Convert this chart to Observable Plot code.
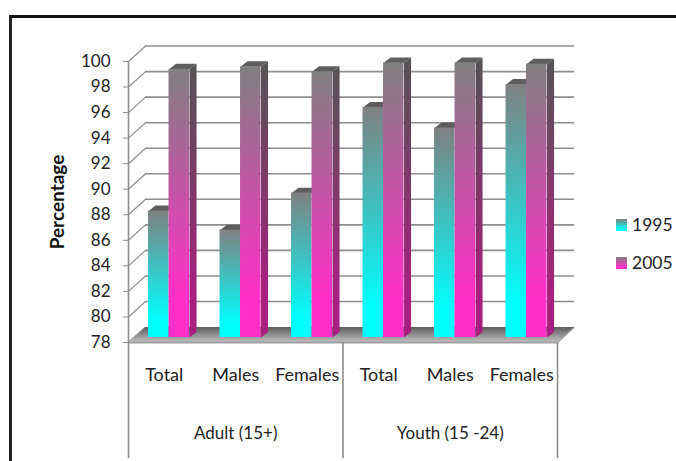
<!DOCTYPE html>
<html>
<head>
<meta charset="utf-8">
<script src="https://cdn.jsdelivr.net/npm/d3@7"></script>
<script src="https://cdn.jsdelivr.net/npm/@observablehq/plot@0.6"></script>
<style>
html,body{margin:0;padding:0;background:#fff;overflow:hidden}
#wrap{position:relative;width:676px;height:461px;font-family:Lato,sans-serif}
#frame{position:absolute;left:9px;top:15px;right:0;bottom:0;border-left:3px solid #222;border-top:3px solid #111}
#chart{position:absolute;left:0;top:0}
.lg{position:absolute;left:616px;display:flex;align-items:center;font-size:17.5px;color:#222;line-height:1}
.lg i{display:block;width:11px;height:12px;margin-right:5px}
</style>
</head>
<body>
<div id="wrap"><div id="frame"></div><div id="chart"></div>
<div class="lg" style="top:216px"><i style="background:linear-gradient(#808080,#00ffff 85%)"></i><span>1995</span></div>
<div class="lg" style="top:254px"><i style="background:linear-gradient(#808080,#ff2fc8 85%)"></i><span>2005</span></div>
</div>
<script>
const categories = ["Total","Males","Females","Total","Males","Females"];
const groups = ["Adult (15+)","Youth (15 -24)"];
const values1995 = [87.9,86.4,89.3,96.0,94.4,97.8];
const values2005 = [99.0,99.2,98.8,99.5,99.5,99.4];
const yTicks = [78,80,82,84,86,88,90,92,94,96,98,100];

const yMin = 78, yMax = 100;
// depth of the 3D box, in scale units
const wallDx = 0.238, wallDy = 1.21;
const barDx = 0.098, barDy = 0.43;
const barStart = 0.21, barW = 0.287;

const slots = categories.map((c,i)=>i);
const faces = {front:[],side:[],top:[]};
function addBars(vals, k, tag){
  vals.forEach((v,i)=>{
    const x1 = i+barStart+k*barW, x2 = x1+barW;
    faces.front.push({tag,x1,x2,v});
    const id = tag+i;
    [[x2,yMin],[x2+barDx,yMin+barDy],[x2+barDx,v+barDy],[x2,v]].forEach(p=>faces.side.push({id,tag,x:p[0],y:p[1]}));
    [[x1,v],[x1+barDx,v+barDy],[x2+barDx,v+barDy],[x2,v]].forEach(p=>faces.top.push({id,tag,x:p[0],y:p[1]}));
  });
}
addBars(values1995,0,"a");
addBars(values2005,1,"b");

const n = categories.length;
const floor = [[0,yMin],[wallDx,yMin+wallDy],[n+wallDx,yMin+wallDy],[n,yMin]].map(p=>({x:p[0],y:p[1]}));
const grey = "#8e8e8e";
const barMarks = tag => [
  Plot.line(faces.top.filter(d=>d.tag===tag),{x:"x",y:"y",z:"id",fill:"#5e5e5e",stroke:"none",dx:5,dy:-5}),
  Plot.line(faces.side.filter(d=>d.tag===tag),{x:"x",y:"y",z:"id",fill:"url(#side"+tag+")",stroke:"none",dx:5,dy:-5}),
  Plot.rect(faces.front.filter(d=>d.tag===tag),{x1:"x1",x2:"x2",y1:()=>yMin,y2:"v",fill:"url(#front"+tag+")",dx:5,dy:-5})
];

const plot = Plot.plot({
  width:676,height:461,
  marginLeft:128,marginRight:119,marginTop:61,marginBottom:119,
  style:{background:"transparent",fontFamily:"Lato,sans-serif"},
  x:{domain:[0,n],axis:null},
  y:{domain:[yMin,yMax],axis:null},
  marks:[
    // back wall grid
    Plot.ruleY(yTicks.slice(1),{y:d=>d+wallDy,x1:()=>wallDx,x2:()=>n+wallDx,stroke:grey,strokeWidth:1.6}),
    // side wall diagonals
    Plot.link(yTicks,{x1:()=>0,y1:d=>d,x2:()=>wallDx,y2:d=>d+wallDy,stroke:grey,strokeWidth:1.2}),
    // floor
    Plot.line(floor,{x:"x",y:"y",fill:"url(#floor)",stroke:"none"}),
    Plot.ruleX([0],{y1:yMin,y2:yMax,stroke:grey,strokeWidth:1.6}),
    Plot.ruleY([yMin],{x1:()=>0,x2:()=>n,stroke:"#a0a0a0",strokeWidth:2}),
    Plot.link([0],{x1:()=>n,y1:()=>yMin,x2:()=>n+wallDx,y2:()=>yMin+wallDy,stroke:"#a0a0a0",strokeWidth:1.2}),
    // category dividers
    Plot.ruleX([0,3,6],{x:d=>d,y1:()=>yMin,y2:()=>yMin-9.1,stroke:grey,strokeWidth:1.6}),
    ...barMarks("a"),
    ...barMarks("b"),
    Plot.axisY({ticks:yTicks,tickSize:5,tickPadding:13,stroke:grey,fill:"#222",fontSize:17,label:null,tickFormat:d=>String(d)}),
    Plot.text(slots,{x:d=>d+0.5,y:()=>yMin,dy:33,text:d=>categories[d],fontSize:18,fill:"#222"}),
    Plot.text(groups,{x:(d,i)=>1.5+3*i,y:()=>yMin,dy:91,text:d=>d,fontSize:17,fill:"#222"}),
    Plot.text(["Percentage"],{frameAnchor:"left",textAnchor:"middle",dx:-71,text:d=>d,rotate:-90,fontSize:19,fontWeight:"bold",fill:"#111"})
  ]
});

function grad(id,stops){
  const g = d3.select(plot).insert("defs",":first-child").append("linearGradient")
    .attr("id",id).attr("x1",0).attr("y1",0).attr("x2",0).attr("y2",1);
  stops.forEach(s=>g.append("stop").attr("offset",s[0]).attr("stop-color",s[1]));
}
grad("fronta",[[0,"#808080"],[0.87,"#00ffff"],[1,"#00ffff"]]);
grad("frontb",[[0,"#808080"],[0.85,"#ff2fc8"],[1,"#ff2fc8"]]);
grad("sidea",[[0,"#545454"],[0.87,"#00a8a8"],[1,"#00a8a8"]]);
grad("sideb",[[0,"#545454"],[0.85,"#a8207f"],[1,"#a8207f"]]);
grad("floor",[[0,"#5c5c5c"],[1,"#c4c4c4"]]);
document.getElementById("chart").appendChild(plot);
</script>
</body>
</html>
